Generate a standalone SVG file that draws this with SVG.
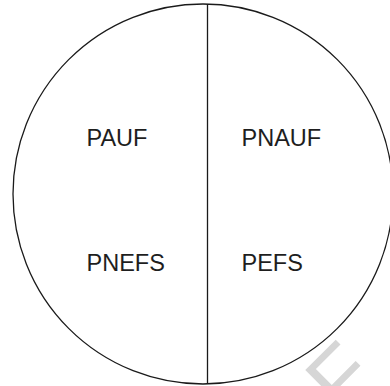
<svg xmlns="http://www.w3.org/2000/svg" width="390" height="386" viewBox="0 0 390 386">
<style>
.lbl{font-family:"Liberation Sans",Arial,sans-serif;font-size:23.5px;fill:#1e1e1e}
.wm{font-family:"Liberation Sans",Arial,sans-serif;font-size:88px;fill:#d6d6d6}
.ln{fill:none;stroke:#1a1a1a;stroke-width:1.3}
</style>
<rect width="390" height="386" fill="#fff"/>
<g id="watermark"><text class="wm" transform="translate(343 418) rotate(-45)" x="-68.5" y="0">OF</text></g>
<g id="circle"><circle class="ln" cx="203" cy="194" r="190"/></g>
<g id="connectors"><line class="ln" x1="207.5" y1="4" x2="207.5" y2="384"/></g>
<g id="pauf"><text class="lbl" x="86.5" y="146">PAUF</text></g>
<g id="pnauf"><text class="lbl" x="241.5" y="146">PNAUF</text></g>
<g id="pnefs"><text class="lbl" x="86.5" y="271">PNEFS</text></g>
<g id="pefs"><text class="lbl" x="241.5" y="271">PEFS</text></g>
</svg>
